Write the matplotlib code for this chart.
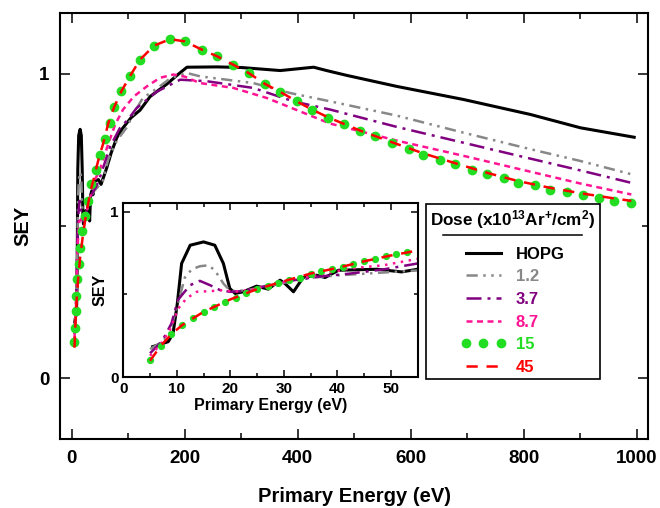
"""SEY vs primary energy for HOPG and Ar+ irradiated samples, with low-energy inset."""

import matplotlib

matplotlib.use("Agg")
import matplotlib.pyplot as plt
from matplotlib.lines import Line2D
from matplotlib.ticker import MultipleLocator

plt.rcParams["font.family"] = ["Liberation Sans", "DejaVu Sans"]
plt.rcParams["font.weight"] = "bold"
plt.rcParams["mathtext.fontset"] = "custom"
plt.rcParams["mathtext.rm"] = "Liberation Sans:bold"
plt.rcParams["mathtext.default"] = "rm"

# ---- data ----
hopg_e = [5.5, 7, 8.4, 9.3, 10.1, 10.9, 12.5, 15, 17.1, 18.7, 19.9, 20.9, 22.4, 24.9,
          27.1, 29.3, 30.2, 31.8, 33.6, 36.1, 37.7, 40.2, 47.4, 52, 55, 62, 70, 80, 90,
          105, 121, 139, 168, 190, 204, 257, 300, 369, 428, 451, 487, 575, 693, 811, 900, 995]
hopg_sey = [0.185, 0.20, 0.215, 0.265, 0.446, 0.687, 0.797, 0.817, 0.797, 0.687, 0.536,
            0.506, 0.516, 0.55, 0.532, 0.586, 0.566, 0.516, 0.602, 0.616, 0.602, 0.646,
            0.652, 0.636, 0.652, 0.69, 0.74, 0.79, 0.82, 0.855, 0.88, 0.925, 0.965, 1.0,
            1.021, 1.022, 1.02, 1.01, 1.021, 1.01, 0.994, 0.958, 0.915, 0.866, 0.822, 0.791]

d12_e = [5, 7, 8.5, 10, 11.5, 12.8, 14.3, 15.9, 17.1, 18.7, 20, 23, 27, 30, 35, 40, 45,
         50, 55, 65, 80, 97, 110, 126, 150, 175, 204, 227, 321, 387, 457, 575, 693, 811,
         900, 995]
d12_sey = [0.17, 0.21, 0.25, 0.42, 0.602, 0.652, 0.67, 0.676, 0.646, 0.566, 0.52, 0.525,
           0.55, 0.57, 0.60, 0.615, 0.625, 0.635, 0.645, 0.72, 0.78, 0.822, 0.87, 0.92,
           0.95, 0.985, 1.002, 0.991, 0.969, 0.936, 0.909, 0.862, 0.806, 0.752, 0.713, 0.667]

d37_e = [5, 7.2, 9, 10.2, 11.2, 12.5, 14.3, 16.2, 18.1, 19.9, 22.4, 29.9, 36.1, 42.4,
         48.6, 55, 68, 85, 100, 115, 150, 192, 239, 321, 392, 457, 575, 693, 811, 900, 995]
d37_sey = [0.145, 0.215, 0.325, 0.466, 0.506, 0.556, 0.582, 0.556, 0.526, 0.516, 0.52,
           0.576, 0.606, 0.626, 0.651, 0.687, 0.76, 0.82, 0.85, 0.887, 0.94, 0.98, 0.975,
           0.953, 0.909, 0.882, 0.825, 0.773, 0.721, 0.682, 0.639]

d87_e = [5, 7, 8.7, 10.3, 11.8, 13.7, 16.2, 18.7, 20.5, 23.7, 30, 36.1, 42.4, 48.6, 54.2,
         65, 77, 91, 110, 133, 156, 180, 200, 227, 286, 345, 404, 457, 575, 693, 811, 900, 990]
d87_sey = [0.13, 0.20, 0.285, 0.416, 0.476, 0.516, 0.52, 0.526, 0.516, 0.526, 0.575,
           0.616, 0.657, 0.676, 0.71, 0.77, 0.833, 0.882, 0.925, 0.958, 0.986, 0.997,
           0.99, 0.969, 0.953, 0.92, 0.876, 0.836, 0.78, 0.73, 0.678, 0.639, 0.603]

# dose 15: dots as drawn in the main panel
d15_e = [5, 6, 7, 8, 10, 13, 15, 18, 24, 29, 35, 43, 50, 59, 68, 75, 88, 103, 121, 146,
         174, 200, 230, 257, 286, 313, 342, 369, 398, 425, 454, 481, 510, 537, 566, 596,
         622, 652, 678, 708, 735, 764, 790, 820, 846, 876, 904, 932, 960, 989]
d15_sey = [0.117, 0.166, 0.221, 0.27, 0.325, 0.376, 0.428, 0.483, 0.532, 0.581, 0.636,
           0.685, 0.734, 0.786, 0.838, 0.889, 0.942, 0.991, 1.046, 1.092, 1.113, 1.106,
           1.079, 1.057, 1.029, 1.002, 0.966, 0.94, 0.909, 0.882, 0.854, 0.835, 0.811,
           0.794, 0.772, 0.751, 0.734, 0.716, 0.702, 0.685, 0.669, 0.658, 0.641, 0.633,
           0.619, 0.611, 0.601, 0.59, 0.581, 0.574]
# dose 15: dots as drawn in the inset
d15_low_e = [5, 7, 9, 11, 13, 15, 17, 19, 21, 23, 25, 27, 29, 31, 33, 35, 37, 39, 41, 43,
             45, 47, 49, 51, 53]
d15_low_sey = [0.104, 0.19, 0.26, 0.315, 0.36, 0.395, 0.425, 0.455, 0.48, 0.508, 0.532,
               0.552, 0.572, 0.588, 0.602, 0.626, 0.64, 0.652, 0.666, 0.684, 0.70, 0.716,
               0.733, 0.745, 0.758]

d45_e = [5, 7, 9, 11, 15, 20, 25, 30, 35, 40, 45, 50, 55, 65, 75, 88, 103, 121, 146, 174,
         200, 230, 257, 286, 313, 342, 369, 398, 425, 454, 510, 566, 622, 678, 735, 790,
         846, 904, 960, 990]
d45_sey = [0.10, 0.19, 0.26, 0.315, 0.395, 0.47, 0.532, 0.58, 0.626, 0.66, 0.70, 0.735,
           0.765, 0.838, 0.889, 0.942, 0.991, 1.046, 1.092, 1.113, 1.106, 1.079, 1.057,
           1.029, 1.002, 0.966, 0.94, 0.909, 0.882, 0.856, 0.813, 0.775, 0.738, 0.706,
           0.674, 0.647, 0.625, 0.606, 0.59, 0.582]

labels = ["HOPG", "1.2", "3.7", "8.7", "15", "45"]
colors = ["black", "#888888", "#800080", "#FF1493", "#22DD22", "#FF0000"]


def draw_series(ax, lw, ms, low=False):
    h = []
    h += ax.plot(hopg_e, hopg_sey, color=colors[0], lw=lw + 0.4, ls="-")
    h += ax.plot(d12_e, d12_sey, color=colors[1], lw=lw, ls=(0, (4.5, 2.2, 1, 2.2, 1, 2.2)))
    h += ax.plot(d37_e, d37_sey, color=colors[2], lw=lw, ls=(0, (6, 2.4, 1.2, 2.4)))
    # the short dashes come out as dots in the small inset
    pink_ls = (0, (1, 2.2)) if low else (0, (2.4, 1.8))
    h += ax.plot(d87_e, d87_sey, color=colors[3], lw=lw, ls=pink_ls)
    if low:
        h += ax.plot(d15_low_e, d15_low_sey, color=colors[4], ls="none", marker="o", ms=ms)
    else:
        h += ax.plot(d15_e, d15_sey, color=colors[4], ls="none", marker="o", ms=ms)
    h += ax.plot(d45_e, d45_sey, color=colors[5], lw=lw, ls=(0, (4.5, 3.5)))
    return h


def style_ticks(ax, size, major_len, minor_len, pad):
    ax.tick_params(which="both", direction="in", top=True, right=True, width=1.1)
    ax.tick_params(which="major", length=major_len, labelsize=size, pad=pad)
    ax.tick_params(which="minor", length=minor_len)
    for t in ax.get_xticklabels() + ax.get_yticklabels():
        t.set_fontweight("bold")
    for s in ax.spines.values():
        s.set_linewidth(1.5)


fig = plt.figure(figsize=(6.6, 5.08), dpi=100)

# main panel
ax = fig.add_axes([0.0914, 0.1358, 0.8909, 0.8392])
handles = draw_series(ax, lw=1.8, ms=6)
ax.set_xlim(-20, 1020)
ax.set_ylim(-0.2, 1.2)
ax.xaxis.set_major_locator(MultipleLocator(200))
ax.xaxis.set_minor_locator(MultipleLocator(100))
ax.yaxis.set_major_locator(MultipleLocator(1))
ax.yaxis.set_minor_locator(MultipleLocator(0.5))
style_ticks(ax, 13.5, 7, 4, 8)
ax.set_xlabel("Primary Energy (eV)", fontsize=14.5, fontweight="bold", labelpad=14)
ax.set_ylabel("SEY", fontsize=14.5, fontweight="bold", labelpad=5)

leg = ax.legend(handles, labels,
                title="Dose (x10$^{13}$Ar$^{+}$/cm$^{2}$)",
                loc="upper left", bbox_to_anchor=(0.622, 0.5506), borderaxespad=0,
                frameon=True, fancybox=False, edgecolor="black", framealpha=1,
                prop=dict(weight="bold", size=12),
                title_fontproperties=dict(weight="bold", size=12.3),
                handlelength=2.7, handletextpad=0.6, labelspacing=0.46,
                borderpad=0.25, numpoints=3, labelcolor=colors)
leg.get_frame().set_linewidth(1.2)
leg._legend_box.sep = 11  # extra room under the title for the rule

# inset panel
ins = fig.add_axes([0.1868, 0.2573, 0.446, 0.3425])
draw_series(ins, lw=1.8, ms=4.2, low=True)
ins.set_xlim(0, 55)
ins.set_ylim(0, 1.05)
ins.xaxis.set_major_locator(MultipleLocator(10))
ins.xaxis.set_minor_locator(MultipleLocator(5))
ins.yaxis.set_major_locator(MultipleLocator(1))
ins.yaxis.set_minor_locator(MultipleLocator(0.5))
style_ticks(ins, 11, 5, 3, 3.5)
ins.set_xlabel("Primary Energy (eV)", fontsize=11.5, fontweight="bold", labelpad=1)
ins.set_ylabel("SEY", fontsize=11.5, fontweight="bold", labelpad=2)

# underline below the legend title
fig.canvas.draw()
bb = leg.get_title().get_window_extent()
inv = fig.transFigure.inverted()
x0, y0 = inv.transform((bb.x0 + 0.08 * bb.width, bb.y0 - 4))
x1, _ = inv.transform((bb.x1 - 0.08 * bb.width, bb.y0 - 4))
fig.add_artist(Line2D([x0, x1], [y0, y0], transform=fig.transFigure, color="black", lw=1.1))

fig.savefig("out.png", dpi=100)
